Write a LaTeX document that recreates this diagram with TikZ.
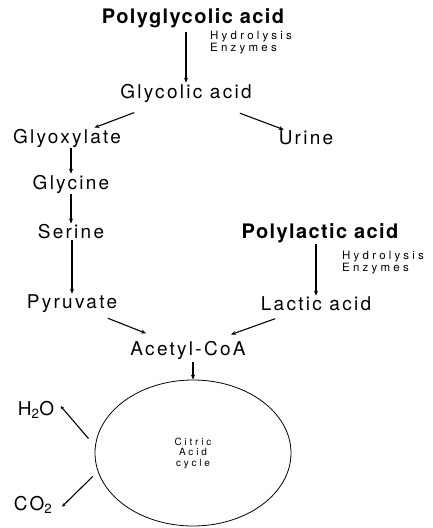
\documentclass[tikz,border=0pt]{standalone}
\usepackage{fontspec}
\setmainfont{TeX Gyre Heros}
\newfontfamily\lblfont[LetterSpace=12]{TeX Gyre Heros}
\newfontfamily\polyfont[LetterSpace=7]{TeX Gyre Heros}
\newfontfamily\smallfont[LetterSpace=28]{TeX Gyre Heros}
\usetikzlibrary{arrows.meta,shapes.geometric,positioning}

\begin{document}
\begin{tikzpicture}[
  x=1pt, y=-1pt,
  lbl/.style={inner sep=1pt, font=\lblfont\fontsize{19}{22}\selectfont},
  poly/.style={inner sep=1pt, font=\polyfont\bfseries\fontsize{20}{23}\selectfont},
  note/.style={inner sep=0pt, align=left, font=\smallfont\fontsize{11.5}{10.5}\selectfont},
  tcabox/.style={draw, ellipse, line width=0.8pt, minimum width=196pt, minimum height=146pt, align=center, font=\smallfont\fontsize{10}{10.5}\selectfont},
  arr/.style={-{Stealth[length=5pt,width=4pt]}, line width=1.1pt}
]
\useasboundingbox (0,0) rectangle (433,528);
\node[poly] (pga) at (193,18) {Polyglycolic acid};
\node[note, anchor=west] (hyd1) at (210,43) {Hydrolysis\\Enzymes};
\node[lbl] (gly) at (186,93) {Glycolic acid};
\node[lbl] (glyox) at (67,138) {Glyoxylate};
\node[lbl] (urine) at (306,138) {Urine};
\node[lbl] (glycine) at (71,184) {Glycine};
\node[lbl] (serine) at (71,232) {Serine};
\node[poly] (pla) at (320,233) {Polylactic acid};
\node[note, anchor=west] (hyd2) at (342,263) {Hydrolysis\\Enzymes};
\node[lbl] (pyr) at (72,304) {Pyruvate};
\node[lbl] (lac) at (316,304) {Lactic acid};
\node[lbl] (acoa) at (188,350) {Acetyl-CoA};
\node[tcabox] (tca) at (193,453) {Citric\\Acid\\cycle};
\node[lbl] (water) at (36,410) {H\textsubscript{2}O};
\node[lbl] (co2) at (33,505) {CO\textsubscript{2}};
\draw[arr, line width=1.6pt, shorten <=3pt] (gly |- pga.south) -- (gly);
\draw[arr, shorten <=26pt] (gly) -- (glyox);
\draw[arr, shorten <=28pt] (gly) -- (urine);
\draw[arr] (glycine |- glyox.south) -- (glycine);
\draw[arr] (serine |- glycine.south) -- (serine);
\draw[arr] (pyr |- serine.south) -- (pyr);
\draw[arr] (lac |- pla.south) -- (lac);
\draw[arr, shorten <=11pt, shorten >=17pt] (pyr) -- (acoa);
\draw[arr, shorten <=19pt, shorten >=15pt] (lac) -- (acoa);
\draw[arr, shorten <=2pt] (tca.north |- acoa.south) -- (tca.north);
\draw[arr, -{Stealth[length=3.5pt,width=3pt]}, shorten <=10pt, shorten >=8pt] (tca.176) -- (water.north east);
\draw[arr, -{Stealth[length=3.5pt,width=3pt]}, shorten <=7pt, shorten >=12pt] (tca.191) -- (co2.south east);
\end{tikzpicture}
\end{document}
